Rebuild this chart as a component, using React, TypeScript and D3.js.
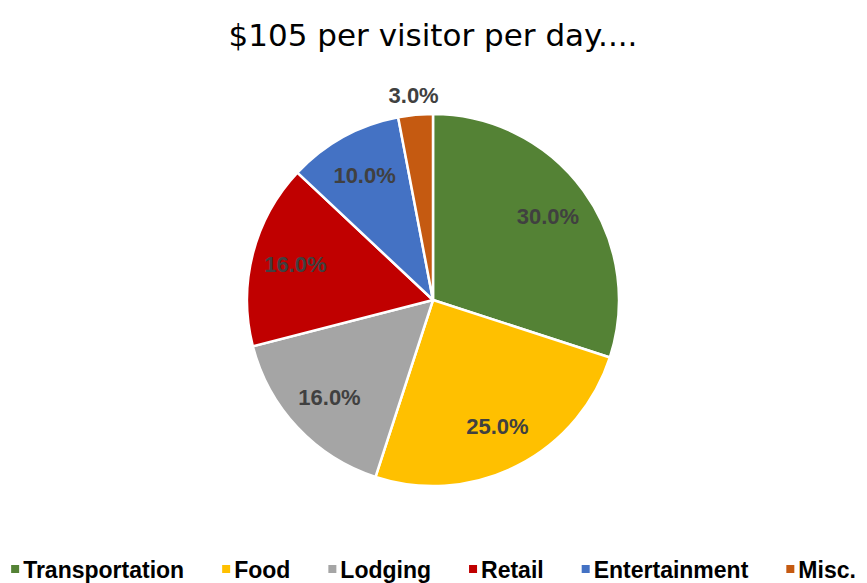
import { useRef, useEffect } from 'react';
import * as d3 from 'd3';

const categories = ['Transportation', 'Food', 'Lodging', 'Retail', 'Entertainment', 'Misc.'];
const shares = [30, 25, 16, 16, 10, 3];
const colors = ['#548235', '#FFC000', '#A5A5A5', '#C00000', '#4472C4', '#C55A11'];

export default function App() {
  const svgRef = useRef<SVGSVGElement>(null);

  useEffect(() => {
    if (!svgRef.current) return;
    const W = 867, H = 583;
    const cx = 433, cy = 300, R = 186;
    const svg = d3.select(svgRef.current);
    svg.selectAll('*').remove();

    svg.append('text')
      .attr('x', cx).attr('y', 46)
      .attr('text-anchor', 'middle')
      .attr('font-family', 'DejaVu Sans, Verdana, sans-serif')
      .attr('font-size', 31)
      .attr('fill', '#000')
      .text('$105 per visitor per day....');

    const data = categories.map((c, i) => ({ name: c, value: shares[i], color: colors[i] }));
    const pie = d3.pie<typeof data[0]>().value(d => d.value).sort(null);
    const arcs = pie(data);
    const arc = d3.arc<d3.PieArcDatum<typeof data[0]>>().innerRadius(0).outerRadius(R);

    const g = svg.append('g').attr('transform', `translate(${cx},${cy})`);
    g.selectAll('path')
      .data(arcs)
      .join('path')
      .attr('d', arc)
      .attr('fill', d => d.data.color)
      .attr('stroke', '#fff')
      .attr('stroke-width', 2.5)
      .attr('stroke-linejoin', 'round');

    // labels: inside for big slices, outside for the tiny one
    const inner = d3.arc<d3.PieArcDatum<typeof data[0]>>().innerRadius(142).outerRadius(142);
    const outer = d3.arc<d3.PieArcDatum<typeof data[0]>>().innerRadius(R + 20).outerRadius(R + 20);
    g.selectAll('.lbl')
      .data(arcs)
      .join('text')
      .attr('class', 'lbl')
      .attr('transform', d => {
        const [x, y] = d.data.value < 5 ? outer.centroid(d) : inner.centroid(d);
        return `translate(${x},${y})`;
      })
      .attr('text-anchor', 'middle')
      .attr('dy', '0.35em')
      .attr('font-family', 'Liberation Sans, Arial, sans-serif')
      .attr('font-weight', 'bold')
      .attr('font-size', 22)
      .attr('fill', '#404040')
      .text(d => `${d.data.value.toFixed(1)}%`);

    // legend
    const legend = svg.append('g').attr('transform', `translate(0, 570)`);
    const items = legend.selectAll('g')
      .data(data)
      .join('g');
    items.append('rect')
      .attr('y', -5).attr('width', 8).attr('height', 8)
      .attr('fill', d => d.color);
    items.append('text')
      .attr('x', 12)
      .attr('dy', '0.35em')
      .attr('font-family', 'Liberation Sans, Arial, sans-serif')
      .attr('font-weight', 'bold')
      .attr('font-size', 23)
      .attr('fill', '#000')
      .text(d => d.name);
    const gap = 38;
    const widths: number[] = [];
    items.each(function () {
      const t = d3.select(this).select('text').node() as SVGTextElement;
      widths.push(12 + t.getComputedTextLength());
    });
    const total = d3.sum(widths) + gap * (widths.length - 1);
    let x = (W - total) / 2;
    items.attr('transform', (_, i) => {
      const tx = x;
      x += widths[i] + gap;
      return `translate(${tx},0)`;
    });
    svg.attr('viewBox', `0 0 ${W} ${H}`);
  }, []);

  return (
    <svg ref={svgRef} width={867} height={583}
      style={{ position: 'absolute', left: 0, top: 0, background: '#fff' }} />
  );
}
